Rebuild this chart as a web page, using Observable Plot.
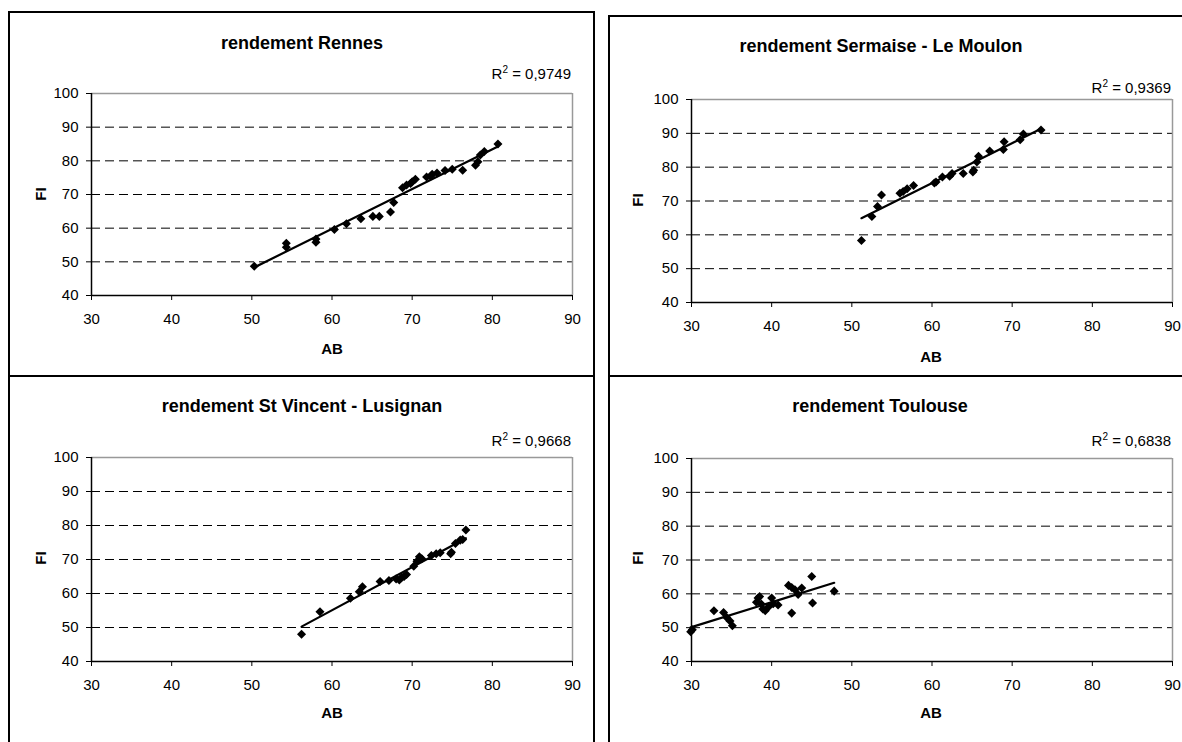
<!DOCTYPE html>
<html>
<head>
<meta charset="utf-8">
<script src="https://cdn.jsdelivr.net/npm/d3@7"></script>
<script src="https://cdn.jsdelivr.net/npm/@observablehq/plot@0.6"></script>
<style>
  html, body { margin: 0; padding: 0; background: #fff; width: 1182px; height: 742px; overflow: hidden; }
  body { position: relative; font-family: "Liberation Sans", Arial, sans-serif; color: #000; }
  .box { position: absolute; border: 2px solid #000; box-sizing: border-box; }
  .chart { position: absolute; }
  .txt { position: absolute; white-space: nowrap; line-height: 1; }
  .title { font-weight: bold; font-size: 18px; transform: translate(-50%, -50%); }
  .r2 { font-size: 15px; transform: translate(-100%, -50%); }
  .r2 sup { font-size: 10px; vertical-align: 6px; line-height: 0; }
  .xl { font-weight: bold; font-size: 15px; transform: translate(-50%, -50%); }
  .yl { font-weight: bold; font-size: 15px; transform: translate(-50%, -50%) rotate(-90deg); }
</style>
</head>
<body>
<script>
// ---- data (AB = x, FI = y) ----
const titles = ["rendement Rennes", "rendement Sermaise - Le Moulon", "rendement St Vincent - Lusignan", "rendement Toulouse"];
const r2Labels = ["0,9749", "0,9369", "0,9668", "0,6838"];
const xTicks = [30, 40, 50, 60, 70, 80, 90];
const yTicks = [40, 50, 60, 70, 80, 90, 100];
const gridY = [50, 60, 70, 80, 90];

const rennesAB = [50.3, 54.3, 54.3, 58.0, 58.0, 60.3, 61.8, 63.6, 65.1, 65.9, 67.3, 67.7, 68.8, 69.3, 70.0, 70.4, 69.8, 71.8, 72.5, 73.1, 72.3, 74.1, 75.0, 76.3, 77.9, 78.2, 78.5, 79.0, 80.7];
const rennesFI = [48.7, 55.5, 54.3, 56.8, 55.8, 59.6, 61.3, 62.8, 63.5, 63.5, 64.8, 67.6, 72.0, 72.8, 73.8, 74.5, 73.3, 75.2, 76.0, 76.4, 75.4, 77.1, 77.5, 77.2, 78.7, 79.7, 81.7, 82.8, 85.0];

const sermaiseAB = [51.2, 52.5, 53.2, 53.7, 56.0, 56.4, 56.9, 57.7, 60.3, 60.5, 61.3, 62.2, 62.5, 63.9, 65.1, 65.2, 65.6, 65.8, 67.2, 68.9, 69.0, 71.0, 71.4, 73.6];
const sermaiseFI = [58.3, 65.4, 68.4, 71.8, 72.3, 72.8, 73.6, 74.6, 75.3, 75.6, 77.1, 77.3, 78.1, 78.1, 78.6, 79.1, 81.5, 83.2, 84.8, 85.2, 87.5, 88.1, 89.8, 91.0];

const vincentAB = [56.2, 58.5, 62.3, 63.4, 63.8, 66.0, 67.1, 68.0, 68.7, 69.3, 68.4, 69.0, 70.2, 70.6, 70.9, 71.2, 72.4, 73.0, 73.5, 74.8, 74.9, 75.4, 76.0, 76.3, 76.7];
const vincentFI = [48.0, 54.6, 58.6, 60.5, 62.0, 63.5, 63.8, 64.3, 64.8, 65.6, 64.0, 65.0, 68.0, 69.5, 70.8, 70.2, 71.2, 71.7, 72.0, 71.7, 72.1, 74.7, 75.7, 75.9, 78.7];

const toulouseAB = [30.1, 29.9, 32.8, 34.0, 34.4, 34.8, 35.1, 38.1, 38.3, 38.5, 38.7, 38.9, 39.2, 39.6, 40.0, 40.2, 40.8, 42.1, 42.5, 42.9, 43.3, 43.75, 42.5, 45.0, 45.1, 47.8];
const toulouseFI = [49.4, 48.8, 55.0, 54.5, 53.0, 52.0, 50.6, 57.5, 58.8, 59.2, 57.0, 55.5, 55.0, 56.1, 58.8, 57.1, 56.7, 62.5, 61.9, 61.2, 59.8, 61.7, 54.3, 65.1, 57.3, 60.8];

const seriesAB = [rennesAB, sermaiseAB, vincentAB, toulouseAB];
const seriesFI = [rennesFI, sermaiseFI, vincentFI, toulouseFI];

// ---- layout ----
const boxes = [
  {left: 8, top: 11, width: 587, height: 366},
  {left: 608, top: 15, width: 600, height: 362},
  {left: 8, top: 375, width: 587, height: 400},
  {left: 608, top: 375, width: 600, height: 400}
];
// plot frame in page pixels
const frames = [
  {l: 91, t: 93, r: 572, b: 295},
  {l: 691, t: 99, r: 1172, b: 302},
  {l: 91, t: 457, r: 572, b: 661},
  {l: 691, t: 458, r: 1172, b: 661}
];
const titlePos = [[302, 43], [881, 46], [302, 406], [880, 406]];
const r2Pos = [[571, 73], [1171, 87], [571, 440], [1171, 440]];
const xlPos = [[332, 348], [931, 356], [332, 712], [931, 712]];
const ylPos = [[40, 194], [637, 200], [40, 558], [637, 558]];

const M = {left: 80, top: 20, right: 20, bottom: 50};

function addText(cls, x, y, html) {
  const d = document.createElement("div");
  d.className = "txt " + cls;
  d.style.left = x + "px";
  d.style.top = y + "px";
  d.innerHTML = html;
  document.body.appendChild(d);
}

for (let i = 0; i < 4; i++) {
  const b = document.createElement("div");
  b.className = "box";
  Object.assign(b.style, {left: boxes[i].left + "px", top: boxes[i].top + "px", width: boxes[i].width + "px", height: boxes[i].height + "px"});
  document.body.appendChild(b);

  const f = frames[i];
  const data = seriesAB[i].map((ab, k) => ({AB: ab, FI: seriesFI[i][k]}));
  const chart = Plot.plot({
    width: (f.r - f.l) + M.left + M.right,
    height: (f.b - f.t) + M.top + M.bottom,
    marginLeft: M.left, marginRight: M.right, marginTop: M.top, marginBottom: M.bottom,
    style: {fontFamily: "Liberation Sans, Arial, sans-serif", fontSize: "15px", color: "#000", background: "transparent", overflow: "visible"},
    x: {domain: [30, 90], ticks: xTicks, tickSize: 5, tickPadding: 13, label: null, tickFormat: d => String(d)},
    y: {domain: [40, 100], ticks: yTicks, tickSize: 5, tickPadding: 8, label: null, tickFormat: d => String(d)},
    marks: [
      Plot.ruleY(gridY, {stroke: "#000", strokeWidth: 1, strokeDasharray: "9,5"}),
      Plot.ruleY([100], {stroke: "#999", strokeWidth: 1.5}),
      Plot.ruleX([90], {stroke: "#999", strokeWidth: 1.5}),
      Plot.ruleX([30], {stroke: "#000", strokeWidth: 1.5}),
      Plot.ruleY([40], {stroke: "#000", strokeWidth: 1.5}),
      Plot.linearRegressionY(data, {x: "AB", y: "FI", ci: 0, stroke: "#000", strokeWidth: 2.2}),
      Plot.dot(data, {x: "AB", y: "FI", symbol: "square", rotate: 45, r: 3.6, fill: "#000", stroke: "none"})
    ]
  });
  chart.classList.add("chart");
  chart.style.left = (f.l - M.left) + "px";
  chart.style.top = (f.t - M.top) + "px";
  document.body.appendChild(chart);

  addText("title", titlePos[i][0], titlePos[i][1], titles[i]);
  addText("r2", r2Pos[i][0], r2Pos[i][1], "R<sup>2</sup> = " + r2Labels[i]);
  addText("xl", xlPos[i][0], xlPos[i][1], "AB");
  addText("yl", ylPos[i][0], ylPos[i][1], "FI");
}
</script>
</body>
</html>
